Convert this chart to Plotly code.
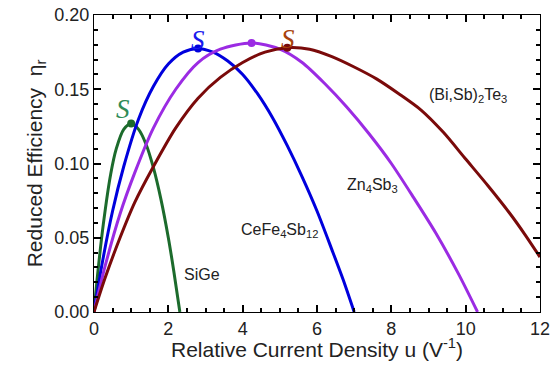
import plotly.graph_objects as go

# ---- data ----
sige_u = [0, 0.1, 0.25, 0.45, 0.6, 0.8, 1.0, 1.2, 1.4, 1.6, 1.8, 2.0, 2.15, 2.31]
sige_eta = [0, 0.026, 0.059, 0.093, 0.110, 0.123, 0.127, 0.123, 0.113, 0.097, 0.076, 0.050, 0.027, 0]

cefe_u = [0, 0.2, 0.5, 0.8, 1.2, 1.6, 2.0, 2.4, 2.8, 3.2, 3.6, 4.0, 4.4, 4.8, 5.2, 5.6, 6.0, 6.4, 6.7, 7.0]
cefe_eta = [0, 0.030, 0.068, 0.098, 0.130, 0.152, 0.167, 0.175, 0.1775, 0.175, 0.169, 0.160, 0.147,
            0.131, 0.112, 0.091, 0.068, 0.042, 0.022, 0]

zn_u = [0, 0.3, 0.7, 1.1, 1.6, 2.2, 2.8, 3.4, 4.24, 5.0, 5.6, 6.2, 6.8, 7.4, 8.0, 8.6, 9.2, 9.8, 10.32]
zn_eta = [0, 0.031, 0.066, 0.094, 0.124, 0.150, 0.168, 0.177, 0.1812, 0.177, 0.168, 0.154, 0.138,
          0.120, 0.100, 0.077, 0.053, 0.026, 0]

bi_u = [0, 0.3, 0.7, 1.1, 1.6, 2.2, 2.8, 3.4, 4.0, 4.6, 5.2, 5.8, 6.4, 7.0, 7.6, 8.2, 8.8, 9.4,
        10.0, 10.6, 11.2, 11.6, 12.0]
bi_eta = [0, 0.023, 0.050, 0.074, 0.098, 0.124, 0.144, 0.158, 0.168, 0.175, 0.178, 0.177, 0.172,
          0.165, 0.157, 0.147, 0.136, 0.121, 0.103, 0.085, 0.066, 0.052, 0.037]

series_names = ["SiGe", "CeFe4Sb12", "Zn4Sb3", "(Bi,Sb)2Te3"]
line_colors = ["#1c6b2c", "#0000dd", "#9b2be3", "#7a0a0a"]

peak_u = [1.0, 2.8, 4.24, 5.2]
peak_eta = [0.127, 0.1775, 0.1812, 0.178]

# compatibility "S" marks
s_u = [0.78, 2.8, 5.22]
s_eta = [0.137, 0.183, 0.184]
s_colors = ["#2e8b57", "#1a1aee", "#a8420c"]

# curve labels
label_text = ["SiGe", "CeFe<sub>4</sub>Sb<sub>12</sub>", "Zn<sub>4</sub>Sb<sub>3</sub>",
              "(Bi,Sb)<sub>2</sub>Te<sub>3</sub>"]
label_u = [2.91, 4.98, 7.5, 10.07]
label_eta = [0.025, 0.055, 0.085, 0.146]

fig = go.Figure()
all_u = [sige_u, cefe_u, zn_u, bi_u]
all_eta = [sige_eta, cefe_eta, zn_eta, bi_eta]
for name, u, e, c in zip(series_names, all_u, all_eta, line_colors):
    fig.add_trace(go.Scatter(x=u, y=e, mode="lines", name=name,
                             line=dict(color=c, width=3, shape="spline", smoothing=0.8),
                             showlegend=False))
for pu, pe, c in zip(peak_u, peak_eta, line_colors):
    fig.add_trace(go.Scatter(x=[pu], y=[pe], mode="markers",
                             marker=dict(color=c, size=8), showlegend=False))

for su, se, c in zip(s_u, s_eta, s_colors):
    fig.add_annotation(x=su, y=se, text="<i>S</i>", showarrow=False,
                       font=dict(family="Liberation Serif", size=27, color=c),
                       xanchor="center", yanchor="middle")

for t, lu, le in zip(label_text, label_u, label_eta):
    fig.add_annotation(x=lu, y=le, text=t, showarrow=False,
                       font=dict(family="Liberation Sans", size=16, color="#222"),
                       xanchor="center", yanchor="middle")

axis_common = dict(showline=True, linecolor="black", mirror="allticks",
                   ticks="inside", ticklen=7, tickwidth=2, tickcolor="black",
                   showgrid=False, automargin=False, ticklabeloverflow="allow",
                   tickfont=dict(family="Liberation Sans", size=18, color="#222"))

fig.update_xaxes(range=[0, 12], dtick=2,
                 minor=dict(dtick=0.5, ticks="inside", ticklen=4, tickcolor="black"),
                 title=dict(text="Relative Current Density u (V<sup>-1</sup>)",
                            font=dict(family="Liberation Sans", size=21, color="#222"), standoff=2),
                 **axis_common)
fig.update_yaxes(range=[0, 0.2], dtick=0.05, tickformat=".2f",
                 minor=dict(dtick=0.01, ticks="inside", ticklen=4, tickcolor="black"),
                 title=dict(text="Reduced Efficiency\u00a0\u00a0\u03b7<sub>r</sub>",
                            font=dict(family="Liberation Sans", size=21, color="#222"), standoff=6),
                 **axis_common)

fig.update_layout(width=542, height=353, margin=dict(l=86, r=10, t=7, b=49),
                  paper_bgcolor="white", plot_bgcolor="white")

fig.write_html("out.html")
